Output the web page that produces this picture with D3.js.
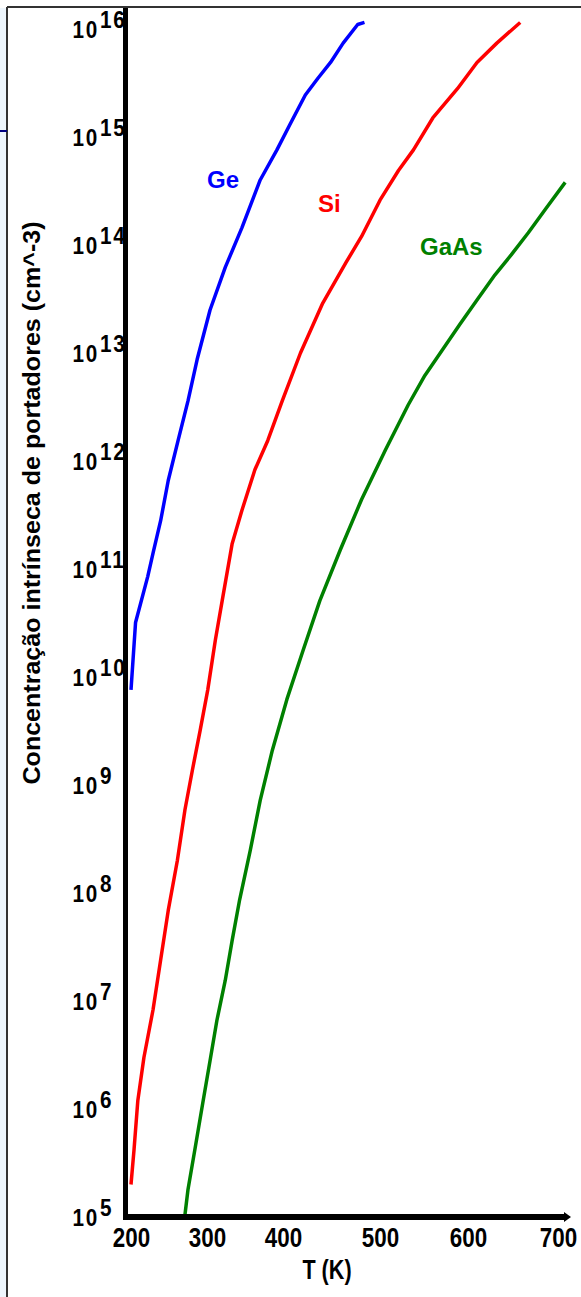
<!DOCTYPE html>
<html lang="pt">
<meta charset="utf-8">
<head>
    <script src="https://d3js.org/d3.v7.min.js"></script>
    <style>
        body { margin: 0; background: #fff; }
        text { font-family: "Liberation Sans", Arial, sans-serif; font-weight: bold; }
    </style>
</head>
<body>
<script>
// temperatures (K) and intrinsic carrier concentrations (cm^-3)
const geT = [200, 206, 222, 229, 239, 249, 262, 275, 287, 304, 324, 346, 370, 392, 407, 423, 436, 449, 462, 477, 484];
const geN = [7.6e9, 3.2e10, 8.5e10, 1.4e11, 2.8e11, 6.6e11, 1.55e12, 3.6e12, 8.7e12, 2.5e13, 6.2e13, 1.45e14,
    4.0e14, 7.6e14, 1.3e15, 2.45e15, 3.5e15, 4.9e15, 7.4e15, 1.1e16, 1.15e16];

const siT = [200, 204, 209, 217, 229, 239, 249, 261, 271, 281, 291, 301, 311, 320, 333, 346, 363, 380, 399, 418,
    441, 465, 481, 500, 521, 538, 560, 588, 610, 632, 658];
const siN = [2.0e5, 4.2e5, 1.2e6, 3.0e6, 8.3e6, 2.4e7, 6.9e7, 2.0e8, 5.9e8, 1.4e9, 3.2e9, 7.6e9, 2.2e10, 5.1e10,
    1.7e11, 3.5e11, 8.3e11, 1.55e12, 3.6e12, 1.0e13, 2.9e13, 6.9e13, 1.2e14, 2.6e14, 4.9e14, 7.6e14, 1.5e15,
    2.8e15, 4.9e15, 7.4e15, 1.15e16];

const gaasT = [270, 271, 275, 284, 295, 304, 313, 324, 333, 343, 357, 370, 386, 404, 421, 438, 459, 481, 506, 532,
    551, 571, 591, 610, 630, 648, 667, 687, 708];
const gaasN = [1.0e5, 1.05e5, 1.8e5, 4.2e5, 1.2e6, 2.8e6, 6.6e6, 1.55e7, 3.6e7, 8.7e7, 2.5e8, 7.2e8, 2.1e9, 6.2e9,
    1.8e10, 5.1e10, 1.5e11, 4.4e11, 1.26e12, 3.3e12, 6.2e12, 1.07e13, 1.86e13, 3.1e13, 5.3e13, 8.1e13, 1.3e14,
    2.2e14, 3.8e14];

const seriesNames = ["Ge", "Si", "GaAs"];
const xTicks = [200, 300, 400, 500, 600, 700];
const yTicks = [1e5, 1e6, 1e7, 1e8, 1e9, 1e10, 1e11, 1e12, 1e13, 1e14, 1e15, 1e16];

const W = 581, H = 1297;
const colors = {Ge: "#0000ff", Si: "#ff0000", GaAs: "#008000"};
const narrow = 0.8;   // the printed labels use a condensed face

const svg = d3.select("body").append("svg")
    .attr("width", W)
    .attr("height", H);

svg.append("rect").attr("width", W).attr("height", H).attr("fill", "#fff");

// page frame
svg.append("rect").attr("x", 0).attr("y", 8).attr("width", 7).attr("height", H - 8).attr("fill", "#eef6fd");
svg.append("line").attr("x1", 7).attr("y1", 7).attr("x2", W).attr("y2", 7)
    .attr("stroke", "#333").attr("stroke-width", 2);
svg.append("line").attr("x1", 7).attr("y1", 7).attr("x2", 7).attr("y2", H)
    .attr("stroke", "#333").attr("stroke-width", 2);
svg.append("line").attr("x1", 0).attr("y1", 131).attr("x2", 7).attr("y2", 131)
    .attr("stroke", "#000080").attr("stroke-width", 2);

// the printed temperature ticks are not evenly spaced
const x = d3.scaleLinear()
    .domain(xTicks)
    .range([131, 207, 283, 380, 468, 558]);

const y = d3.scaleLog()
    .domain([1e5, 1e16])
    .range([1217, 29]);

// curves
const series = [
    {name: "Ge", T: geT, N: geN},
    {name: "Si", T: siT, N: siN},
    {name: "GaAs", T: gaasT, N: gaasN}
];

const line = d3.line()
    .x(function(d) { return x(d[0]); })
    .y(function(d) { return y(d[1]); });

series.forEach(function(s) {
    svg.append("path")
        .datum(d3.zip(s.T, s.N))
        .attr("fill", "none")
        .attr("stroke", colors[s.name])
        .attr("stroke-width", 3.5)
        .attr("stroke-linejoin", "round")
        .attr("d", line);
});

// Y axis
const yAxis = svg.append("g")
    .attr("transform", "translate(125.5,0)")
    .call(d3.axisLeft(y).tickValues(yTicks).tickSize(0).tickFormat(""));
yAxis.select(".domain").remove();
yAxis.selectAll(".tick text").each(function(d) {
    const t = d3.select(this)
        .attr("x", -53 / 0.9)
        .attr("dy", "0.36em")
        .attr("transform", "scale(0.9,1)")
        .attr("text-anchor", "start")
        .attr("fill", "#000")
        .style("font-size", "23px")
        .style("letter-spacing", "2px");
    t.append("tspan").text("10");
    t.append("tspan").attr("dy", -10).attr("dx", 1).text(Math.round(Math.log10(d)));
});
svg.append("line")
    .attr("x1", 125.5).attr("y1", 8).attr("x2", 125.5).attr("y2", 1220)
    .attr("stroke", "#000").attr("stroke-width", 5);

// X axis
const xAxis = svg.append("g")
    .attr("transform", "translate(0,1217)")
    .call(d3.axisBottom(x).tickValues(xTicks).tickSize(0).tickPadding(10));
xAxis.select(".domain").remove();
xAxis.selectAll(".tick text")
    .attr("transform", "scale(" + narrow + ",1)")
    .attr("fill", "#000")
    .style("font-size", "28px");
svg.append("line")
    .attr("x1", 123).attr("y1", 1217).attr("x2", 566).attr("y2", 1217)
    .attr("stroke", "#000").attr("stroke-width", 6);
svg.append("path")
    .attr("d", "M564,1212 L571,1217 L564,1222 Z")
    .attr("fill", "#000");

// axis titles
svg.append("text")
    .attr("transform", "translate(327,1279) scale(" + narrow + ",1)")
    .attr("text-anchor", "middle")
    .style("font-size", "27px")
    .text("T (K)");

svg.append("text")
    .attr("transform", "translate(40,503) rotate(-90)")
    .attr("text-anchor", "middle")
    .attr("textLength", 563)
    .attr("lengthAdjust", "spacingAndGlyphs")
    .style("font-size", "23px")
    .text("Concentração intrínseca de portadores (cm^-3)");

// series labels
const labelPos = {Ge: [207, 188], Si: [318, 212], GaAs: [420, 255]};
seriesNames.forEach(function(n) {
    svg.append("text")
        .attr("x", labelPos[n][0]).attr("y", labelPos[n][1])
        .attr("fill", colors[n])
        .style("font-size", "24px")
        .text(n);
});
</script>
</body>
</html>
